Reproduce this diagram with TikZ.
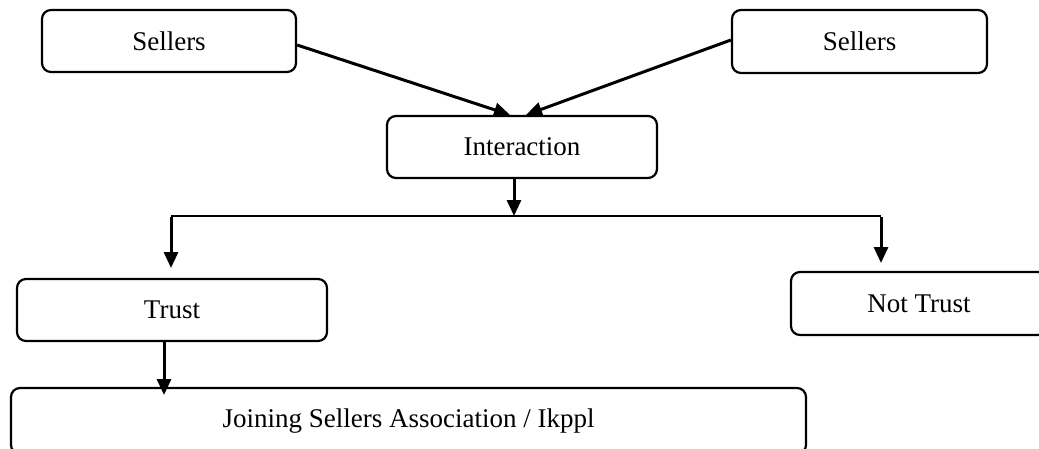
\documentclass[tikz,border=0pt]{standalone}
\usepackage{fontspec}
\setmainfont{Liberation Serif}
\usetikzlibrary{arrows.meta}
\begin{document}
\begin{tikzpicture}[x=1pt,y=-1pt,
  box/.style={draw,line width=2.2pt,rounded corners=9pt,inner sep=0pt,
    font=\fontsize{27}{32}\selectfont},
  link/.style={line width=3pt,-{Triangle[length=16pt,width=14pt]}},
  plain/.style={line width=2.6pt}]
\useasboundingbox (0,0) rectangle (1039,448);
\clip (0,0) rectangle (1039,448);

% boxes
\node[box,minimum width=254pt,minimum height=62pt] (sellL) at (169,41) {Sellers};
\node[box,minimum width=255pt,minimum height=63pt] (sellR) at (859.5,41.5) {Sellers};
\node[box,minimum width=270pt,minimum height=62pt] (inter) at (522,147) {Interaction};
\node[box,minimum width=310pt,minimum height=62pt] (trust) at (172,310) {Trust};
\node[box,minimum width=256pt,minimum height=63pt] (ntrust) at (919,303.5) {Not Trust};
\node[box,minimum width=795pt,minimum height=66pt] (join) at (408.5,421) {Joining Sellers Association / Ikppl};

% junction points
\coordinate (inTopL) at ([xshift=-12pt]inter.north);
\coordinate (inTopR) at ([xshift=4pt]inter.north);
\coordinate (inBot) at ([xshift=-8pt]inter.south);
\coordinate (split) at (514,216);
\coordinate (splitL) at (171,216);
\coordinate (splitR) at (881,216);
\coordinate (trustIn) at (171,268);
\coordinate (ntrustIn) at (881,263);
\coordinate (trustOut) at (164,341);
\coordinate (joinIn) at (164,395);

% connectors
\draw[link] ([yshift=-4pt]sellL.east) -- (inTopL);
\draw[link] ([yshift=1.5pt]sellR.west) -- (inTopR);
\draw[link] (inBot) -- (split);
\draw[plain] (splitL) -- (splitR);
\draw[link] ([yshift=-1.3pt]splitL) -- (trustIn);
\draw[link] ([yshift=-1.3pt]splitR) -- (ntrustIn);
\draw[link] (trustOut) -- (joinIn);
\end{tikzpicture}
\end{document}
